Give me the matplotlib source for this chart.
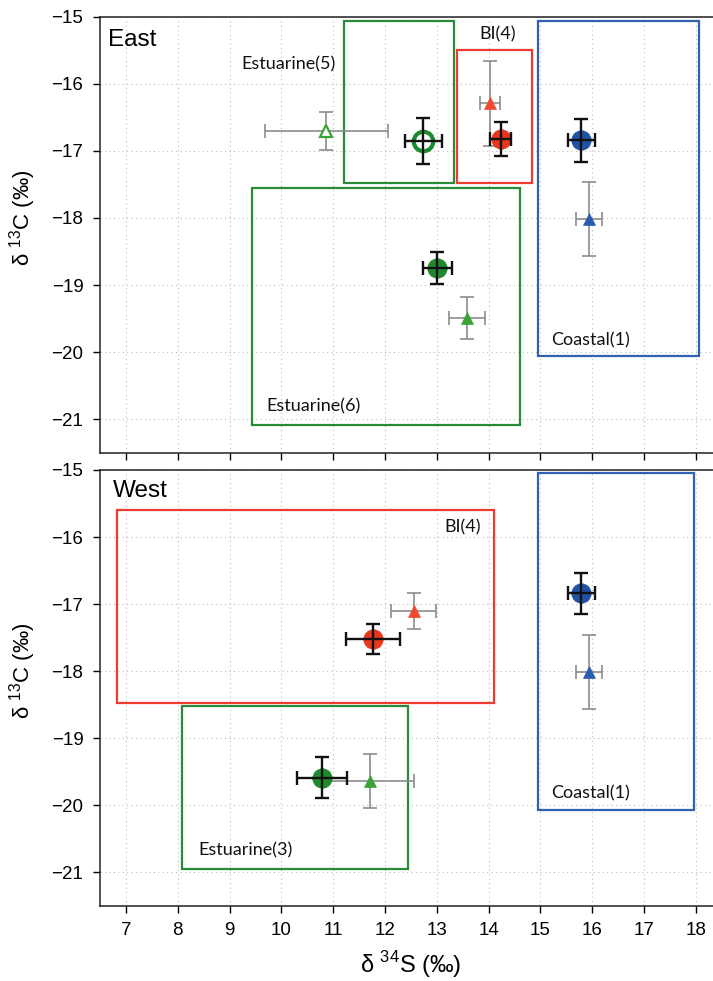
import matplotlib
matplotlib.use("Agg")
import matplotlib.pyplot as plt
from matplotlib.patches import Rectangle

plt.rcParams['font.family'] = ['Liberation Sans', 'DejaVu Sans']

# ---------------- data ----------------
# East panel points: x (d34S), y (d13C), xerr, yerr
east_circ_x = [12.74, 14.23, 15.79, 13.01]
east_circ_y = [-16.85, -16.82, -16.84, -18.75]
east_circ_xerr = [0.36, 0.20, 0.26, 0.28]
east_circ_yerr = [0.34, 0.25, 0.32, 0.24]
east_circ_col = ['green', 'red', 'blue', 'green']
east_circ_open = [True, False, False, False]

east_tri_x = [10.87, 14.02, 15.94, 13.58]
east_tri_y = [-16.70, -16.29, -18.01, -19.49]
east_tri_xerr = [1.18, 0.19, 0.25, 0.34]
east_tri_yerr = [0.28, 0.63, 0.55, 0.31]
east_tri_col = ['green', 'red', 'blue', 'green']
east_tri_open = [True, False, False, False]

# boxes: x0, x1, y0, y1
east_box_x0 = [11.20, 13.39, 14.96, 9.43]
east_box_x1 = [13.34, 14.84, 18.06, 14.61]
east_box_y0 = [-17.48, -17.48, -20.06, -21.08]
east_box_y1 = [-15.07, -15.50, -15.07, -17.55]
east_box_col = ['green', 'red', 'blue', 'green']
east_labels = ['Estuarine(5)', 'BI(4)', 'Coastal(1)', 'Estuarine(6)']
east_label_x = [10.13, 14.17, 15.97, 10.62]
east_label_y = [-15.71, -15.26, -19.82, -20.81]

west_circ_x = [11.77, 15.79, 10.78]
west_circ_y = [-17.52, -16.84, -19.59]
west_circ_xerr = [0.52, 0.26, 0.48]
west_circ_yerr = [0.22, 0.31, 0.31]
west_circ_col = ['red', 'blue', 'green']

west_tri_x = [12.55, 15.94, 11.71]
west_tri_y = [-17.10, -18.01, -19.64]
west_tri_xerr = [0.43, 0.25, 0.84]
west_tri_yerr = [0.27, 0.55, 0.40]
west_tri_col = ['red', 'blue', 'green']

west_box_x0 = [6.82, 14.96, 8.08]
west_box_x1 = [14.11, 17.96, 12.45]
west_box_y0 = [-18.47, -20.08, -20.95]
west_box_y1 = [-15.59, -15.05, -18.52]
west_box_col = ['red', 'blue', 'green']
west_labels = ['BI(4)', 'Coastal(1)', 'Estuarine(3)']
west_label_x = [13.50, 15.97, 9.30]
west_label_y = [-15.86, -19.83, -20.68]

x_ticks = list(range(7, 19))
y_ticks = [-21, -20, -19, -18, -17, -16, -15]

circ_colors = {'green': '#1e8a2e', 'red': '#e8361c', 'blue': '#1f52a5'}
tri_colors = {'green': '#3aa336', 'red': '#ef4a30', 'blue': '#2c5cb2'}
box_colors = {'green': '#2a8a38', 'red': '#ee3d30', 'blue': '#2f62b4'}

fig = plt.figure(figsize=(7.13, 9.81), dpi=100)
ax1 = fig.add_axes([0.1403, 0.5385, 0.8721, 0.4444])
ax2 = fig.add_axes([0.1403, 0.0768, 0.8721, 0.4441])


def style_axis(ax, show_xlabels):
    ax.set_xlim(6.5, 18.5)
    ax.set_ylim(-21.5, -15)
    ax.set_xticks(x_ticks)
    ax.set_yticks(y_ticks)
    ax.grid(True, linestyle=(0, (1, 3)), color='#bdbdbd', linewidth=0.8)
    ax.set_axisbelow(True)
    ax.tick_params(direction='out', length=5, width=1, labelsize=13.5, pad=7)
    if not show_xlabels:
        ax.tick_params(axis='x', labelbottom=False)
    for s in ax.spines.values():
        s.set_linewidth(1.1)
        s.set_color('#222222')
    ax.spines['right'].set_visible(False)
    ax.set_ylabel(r'δ $^{\mathregular{13}}$C (‰)', fontsize=16)
    ax.yaxis.set_label_coords(-0.124, 0.54)
    ax.yaxis.label.set_verticalalignment('center')
    ax.yaxis.label.set_horizontalalignment('center')


def draw_boxes(ax, x0, x1, y0, y1, cols):
    for a, b, c, d, col in zip(x0, x1, y0, y1, cols):
        ax.add_patch(Rectangle((a, c), b - a, d - c, fill=False,
                               edgecolor=box_colors[col], linewidth=1.6, zorder=2))


def draw_points(ax, xs, ys, xe, ye, cols, kind, opens=None):
    if opens is None:
        opens = [False] * len(xs)
    for x, y, dx, dy, col, op in zip(xs, ys, xe, ye, cols, opens):
        if kind == 'circ':
            c = circ_colors[col]
            ax.plot(x, y, 'o', markersize=14,
                    markerfacecolor='white' if op else c,
                    markeredgecolor=c, markeredgewidth=3 if op else 0.5, zorder=4)
            ax.errorbar(x, y, xerr=dx, yerr=dy, fmt='none', ecolor='#111111',
                        elinewidth=1.7, capsize=5, capthick=1.7, zorder=5)
        else:
            c = tri_colors[col]
            ax.errorbar(x, y, xerr=dx, yerr=dy, fmt='none', ecolor='#8c8c8c',
                        elinewidth=1.2, capsize=5, capthick=1.2, zorder=3)
            ax.plot(x, y, '^', markersize=8,
                    markerfacecolor='white' if op else c,
                    markeredgecolor=c, markeredgewidth=1.6 if op else 0.5, zorder=3.5)


ann_font = dict(family=['Lato', 'DejaVu Sans'], fontsize=13, color='#111111')

# East
style_axis(ax1, False)
draw_boxes(ax1, east_box_x0, east_box_x1, east_box_y0, east_box_y1, east_box_col)
draw_points(ax1, east_tri_x, east_tri_y, east_tri_xerr, east_tri_yerr, east_tri_col, 'tri', east_tri_open)
draw_points(ax1, east_circ_x, east_circ_y, east_circ_xerr, east_circ_yerr, east_circ_col, 'circ', east_circ_open)
for t, x, y in zip(east_labels, east_label_x, east_label_y):
    ax1.text(x, y, t, ha='center', va='center', zorder=6, **ann_font)
ax1.text(6.66, -15.34, 'East', ha='left', va='center', fontsize=17.5)

# West
style_axis(ax2, True)
draw_boxes(ax2, west_box_x0, west_box_x1, west_box_y0, west_box_y1, west_box_col)
draw_points(ax2, west_tri_x, west_tri_y, west_tri_xerr, west_tri_yerr, west_tri_col, 'tri')
draw_points(ax2, west_circ_x, west_circ_y, west_circ_xerr, west_circ_yerr, west_circ_col, 'circ')
for t, x, y in zip(west_labels, west_label_x, west_label_y):
    ax2.text(x, y, t, ha='center', va='center', zorder=6, **ann_font)
ax2.text(6.75, -15.32, 'West', ha='left', va='center', fontsize=17.5)
ax2.set_xlabel(r'δ $^{\mathregular{34}}$S (‰)', fontsize=17)
ax2.xaxis.set_label_coords(0.5, -0.136)
ax2.xaxis.label.set_verticalalignment('center')

fig.savefig('out.png', dpi=100)
